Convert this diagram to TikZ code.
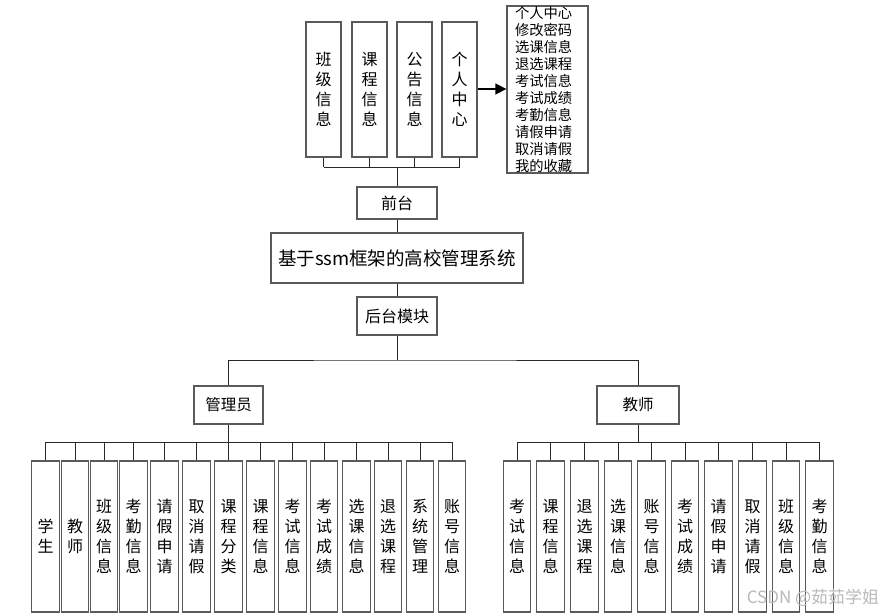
\documentclass[tikz,border=0pt]{standalone}
\usepackage{fontspec}
\setmainfont{Noto Sans CJK SC}
\usetikzlibrary{arrows.meta}
\definecolor{boxgray}{RGB}{90,90,90}
\definecolor{linegray}{RGB}{40,40,40}
\begin{document}
\begin{tikzpicture}[x=1pt,y=-1pt,
  box/.style={draw=boxgray,line width=1.3pt,fill=white,inner sep=0pt,align=center},
  vbox/.style={box,minimum width=27.5pt,minimum height=151pt,font=\fontsize{16}{20}\selectfont},
  tbox/.style={box,minimum width=35pt,minimum height=135pt,font=\fontsize{16}{20}\selectfont},
  hbox/.style={box,font=\fontsize{16}{18}\selectfont},
  link/.style={draw=linegray,line width=1pt},
]
\useasboundingbox (0,0) rectangle (881,614);
% top
\node[tbox] (t1) at (323.5,89.5) {班\\级\\信\\息};
\node[tbox] (t2) at (369.5,89.5) {课\\程\\信\\息};
\node[tbox] (t3) at (414.5,89.5) {公\\告\\信\\息};
\node[tbox] (t4) at (459.5,89.5) {个\\人\\中\\心};
\node[box,minimum width=81pt,minimum height=167pt,inner xsep=8pt,text width=65pt,align=left,
      font=\fontsize{14.3}{17}\selectfont] (lst) at (547.5,89.5)
  {个人中心\\修改密码\\选课信息\\退选课程\\考试信息\\考试成绩\\考勤信息\\请假申请\\取消请假\\我的收藏};
\draw[line width=1.5pt,-{Triangle[length=11pt,width=11pt]}] (t4.east |- 0,89) -- (lst.west |- 0,89);
% centre
\node[hbox,minimum width=80pt,minimum height=32pt] (qt) at (397,203) {前台};
\node[box,minimum width=252pt,minimum height=50pt,font=\fontsize{18.5}{20}\selectfont] (sys) at (397,258) {基于ssm框架的高校管理系统};
\node[hbox,minimum width=80pt,minimum height=38pt] (ht) at (397,316) {后台模块};
\coordinate (busT) at (397,167);
\foreach \n in {t1,t2,t3,t4} \draw[link] (\n.south) -- (\n.south |- busT);
\draw[link] (t1.south |- busT) -- (t4.south |- busT);
\draw[link] (busT) -- (qt.north);
\draw[link] (qt.south) -- (sys.north);
\draw[link] (sys.south) -- (ht.north);
% second level
\node[hbox,minimum width=69pt,minimum height=38pt,font=\fontsize{15.5}{18}\selectfont] (gly) at (228.5,405) {管理员};
\node[hbox,minimum width=82pt,minimum height=38pt,font=\fontsize{15.5}{18}\selectfont] (js) at (638,405) {教师};
\coordinate (busM) at (397,360);
\draw[link] (ht.south) -- (busM);
\draw[link] (gly.north) |- (busM) -| (js.north);
% admin children
\coordinate (busA) at (228.5,442);
\foreach \nm/\x/\t in {a1/45.5/学\\生, a2/75/教\\师, a3/104/班\\级\\信\\息, a4/133.5/考\\勤\\信\\息,
  a5/164.5/请\\假\\申\\请, a6/196.5/取\\消\\请\\假, a7/228.5/课\\程\\分\\类, a8/260.5/课\\程\\信\\息,
  a9/292.5/考\\试\\信\\息, a10/324/考\\试\\成\\绩, a11/356.5/选\\课\\信\\息, a12/388/退\\选\\课\\程,
  a13/420/系\\统\\管\\理, a14/452/账\\号\\信\\息}
{
  \node[vbox] (\nm) at (\x,536.5) {\t};
  \draw[link] (\nm.north) -- (\nm.north |- busA);
}
\draw[link] (gly.south) -- (busA);
\draw[link] (a1.north |- busA) -- (a14.north |- busA);
% teacher children
\coordinate (busJ) at (638,442);
\foreach \nm/\x/\t in {b1/517/考\\试\\信\\息, b2/550.5/课\\程\\信\\息, b3/584.5/退\\选\\课\\程,
  b4/618/选\\课\\信\\息, b5/651.5/账\\号\\信\\息, b6/685/考\\试\\成\\绩, b7/718.5/请\\假\\申\\请,
  b8/752.5/取\\消\\请\\假, b9/786/班\\级\\信\\息, b10/819.5/考\\勤\\信\\息}
{
  \node[vbox] (\nm) at (\x,536.5) {\t};
  \draw[link] (\nm.north) -- (\nm.north |- busJ);
}
\draw[link] (js.south) -- (busJ);
\draw[link] (b1.north |- busJ) -- (b10.north |- busJ);
% watermark
\node[text=gray!55,font=\fontsize{17}{18}\selectfont,inner sep=0pt] (wm) at (813,598) {CSDN @茹茹学姐};
\end{tikzpicture}
\end{document}
